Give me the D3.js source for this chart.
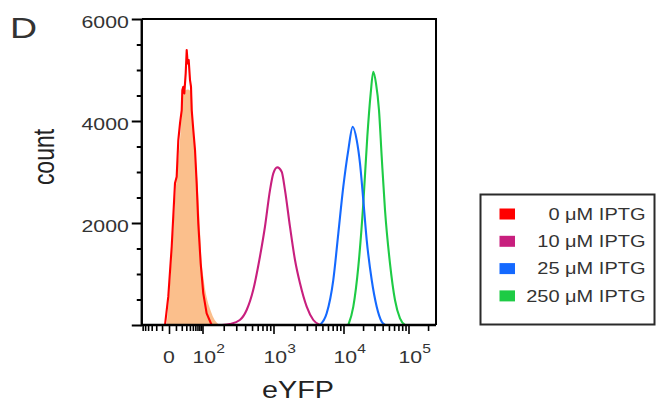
<!DOCTYPE html>
<html>
<head>
<meta charset="utf-8">
<script src="https://cdn.jsdelivr.net/npm/d3@7"></script>
<style>
  html, body { margin: 0; padding: 0; background: #fff; }
  svg { display: block; font-family: "Liberation Sans", Arial, sans-serif; }
</style>
</head>
<body>
<svg id="chart" width="663" height="412"></svg>
<script>
// ---- data: eYFP fluorescence (a.u.) vs. event count per histogram ----
const seriesNames = ["0 \u03bcM IPTG", "10 \u03bcM IPTG", "25 \u03bcM IPTG", "250 \u03bcM IPTG"];
const seriesColors = ["#ff0000", "#c81f7e", "#1469ff", "#1ecb45"];

// unstained / background control (filled)
const ctrlEyfp  = [-3.2, 1.4, 6.0, 11.1, 16.7, 19.9, 23.1, 26.9, 34.5, 45.9, 51.7, 58.6, 66.1, 74.2, 83.7, 92, 102.6, 134.8, 176.3];
const ctrlCount = [0, 823, 1862, 2907, 3626, 4155, 4541, 4600, 4620, 4540, 3822, 3430, 3038, 2515, 1862, 1300, 950, 230, 0];

// 0 uM IPTG
const redEyfp  = [-5.6, -1.0, 3.75, 8.5, 11.1, 13.75, 16.7, 19.9, 21.1, 23.1, 25.3, 28.5, 31.0, 33.6, 36.4, 40.3, 43.5, 45.9, 51.7, 58.6, 66.1, 74.2, 88.0, 102.6, 114.6, 134.8];
const redCount = [0, 555, 1535, 2778, 2907, 3626, 3953, 4214, 4606, 4671, 4541, 4933, 5390, 5129, 5194, 4802, 4671, 4214, 3822, 3430, 2777, 1993, 1209, 621, 229, 0];

// 10 uM IPTG
const magEyfp  = [188, 244, 337, 420, 519, 645, 759, 893, 994, 1133, 1309, 1459, 1720, 2028, 2391, 2980, 3705, 4613];
const magCount = [0, 20, 98, 294, 686, 1339, 1927, 2646, 2973, 3091, 3005, 2646, 1927, 1274, 817, 359, 98, 0];

// 25 uM IPTG
const blueEyfp  = [4613, 5754, 7145, 8433, 9934, 11860, 13860, 15970, 17940, 20170, 22760, 27170, 32420, 38700, 43500];
const blueCount = [0, 229, 882, 1797, 2711, 3430, 3887, 3626, 3169, 2450, 1666, 882, 359, 65, 0];

// 250 uM IPTG
const greenEyfp  = [11860, 14160, 16900, 20170, 23240, 26200, 28720, 31620, 35160, 38700, 43500, 51880, 61940, 73950, 88310];
const greenCount = [0, 359, 1143, 2385, 3691, 4541, 4965, 4737, 4214, 3299, 2254, 1209, 490, 131, 0];

// axis ticks
const xDomain = [-64, 265000];
const xMajorTicks = [0, 1e2, 1e3, 1e4, 1e5];
const xTickBase = ["0", "10", "10", "10", "10"];
const xTickExp  = ["", "2", "3", "4", "5"];
const xMinorTicks = [-60, -50, -40, -30, -20, -10, 10, 20, 30, 40, 50, 60, 70, 80, 90,
  200, 300, 400, 500, 600, 700, 800, 900,
  2000, 3000, 4000, 5000, 6000, 7000, 8000, 9000,
  20000, 30000, 40000, 50000, 60000, 70000, 80000, 90000, 200000];
const yDomain = [0, 6000];
const yMajorTicks = [0, 2000, 4000, 6000];
const yTickLabels = ["", "2000", "4000", "6000"];
const yMinorTicks = [500, 1000, 1500, 2500, 3000, 3500, 4500, 5000, 5500];

// ---- scales ----
const svg = d3.select("#chart");
const STRETCH = "scale(1.25,1)";

// biexponential (arcsinh-like) display transform: linear near zero, log10 above
const LIN_W = 10;
const bx = v => Math.log10(v / 2 + Math.sqrt(v * v / 4 + LIN_W * LIN_W));
const xLin = d3.scaleLinear()
  .domain([bx(0), bx(1e2), bx(1e3), bx(1e4), bx(1e5)])
  .range([169, 202.5, 273.5, 343.5, 408.5]);
function makeX() {
  const s = v => xLin(bx(v));
  s.domain = () => xDomain.slice();
  s.range = () => xDomain.map(s);
  s.copy = makeX;
  return s;
}
const x = makeX();
const y = d3.scaleLinear().domain(yDomain).range([325, 19]);

const [xL, xR] = x.range();
const [yB, yT] = y.range();

// ---- histograms ----
const plot = svg.append("g");

plot.append("path")
  .datum(d3.zip(ctrlEyfp, ctrlCount))
  .attr("fill", "#fbbf8c")
  .attr("d", d3.area().x(d => x(d[0])).y0(y(0)).y1(d => y(d[1])).curve(d3.curveMonotoneX));

const lineSmooth = d3.line().x(d => x(d[0])).y(d => y(d[1])).curve(d3.curveMonotoneX);
const lineRaw = d3.line().x(d => x(d[0])).y(d => y(d[1])).curve(d3.curveLinear);

const series = [
  { e: greenEyfp, c: greenCount, color: seriesColors[3], gen: lineSmooth },
  { e: blueEyfp, c: blueCount, color: seriesColors[2], gen: lineSmooth },
  { e: magEyfp, c: magCount, color: seriesColors[1], gen: lineSmooth },
  { e: redEyfp, c: redCount, color: seriesColors[0], gen: lineRaw }
];
plot.selectAll("path.hist")
  .data(series)
  .join("path")
  .attr("class", "hist")
  .attr("fill", "none")
  .attr("stroke", d => d.color)
  .attr("stroke-width", 2.1)
  .attr("stroke-linejoin", "round")
  .attr("d", d => d.gen(d3.zip(d.e, d.c)));

// ---- frame and axes ----
const frame = svg.append("g").attr("stroke", "#000").attr("fill", "none");
frame.append("path").attr("stroke-width", 2).attr("d", `M${xL},${yT}H${xR}V${yB}`);

const gx = svg.append("g").attr("transform", `translate(0,${yB})`);
gx.append("g").call(d3.axisBottom(x).tickValues(xMinorTicks).tickSize(6).tickSizeOuter(0).tickFormat(""));
gx.append("g").call(d3.axisBottom(x).tickValues(xMajorTicks).tickSize(9).tickSizeOuter(0).tickFormat(""));
gx.selectAll(".domain").remove();
gx.selectAll(".tick line").attr("stroke", "#000").attr("stroke-width", 1.6);

const gy = svg.append("g").attr("transform", `translate(${xL},0)`);
gy.append("g").call(d3.axisLeft(y).tickValues(yMinorTicks).tickSize(5).tickSizeOuter(0).tickFormat(""));
gy.append("g").call(d3.axisLeft(y).tickValues(yMajorTicks).tickSize(10).tickSizeOuter(0).tickFormat(""));
gy.selectAll(".domain").remove();
gy.selectAll(".tick line").attr("stroke", "#000").attr("stroke-width", 2);

// axis lines
svg.append("path").attr("stroke", "#000").attr("stroke-width", 2.4).attr("fill", "none")
  .attr("d", `M${xL},${yT}V${yB}H${xR}`);

// y tick labels
svg.append("g").selectAll("g")
  .data(yMajorTicks.map((v, i) => ({ v, t: yTickLabels[i] })).filter(d => d.t))
  .join("g")
  .attr("transform", d => `translate(${xL - 13},${y(d.v) + 8.5})`)
  .append("text")
  .attr("transform", STRETCH)
  .attr("text-anchor", "end")
  .attr("font-size", 17)
  .attr("fill", "#333")
  .text(d => d.t);

// x tick labels (powers of ten)
const xl = svg.append("g").selectAll("g")
  .data(xMajorTicks.map((v, i) => ({ v, b: xTickBase[i], e: xTickExp[i] })))
  .join("g")
  .attr("transform", d => `translate(${d.e ? x(d.v) - 10 : x(d.v)},363)`)
  .append("text")
  .attr("transform", STRETCH)
  .attr("text-anchor", d => d.e ? "start" : "middle")
  .attr("font-size", 17)
  .attr("fill", "#333");
xl.append("tspan").text(d => d.b);
xl.append("tspan").attr("font-size", 12.5).attr("dy", -10).text(d => d.e);

// axis titles and panel letter
svg.append("text")
  .attr("transform", `translate(53.5,157) ${STRETCH} rotate(-90)`)
  .attr("text-anchor", "middle").attr("font-size", 23).attr("fill", "#222")
  .text("count");
svg.append("text")
  .attr("transform", `translate(298,398) ${STRETCH}`)
  .attr("text-anchor", "middle").attr("font-size", 23).attr("fill", "#222")
  .text("eYFP");
svg.append("text")
  .attr("transform", `translate(10,38) ${STRETCH}`)
  .attr("font-size", 30).attr("fill", "#333")
  .text("D");

// ---- legend ----
const lg = svg.append("g").attr("transform", "translate(480.5,194.5)");
lg.append("rect").attr("width", 174).attr("height", 130)
  .attr("fill", "#fff").attr("stroke", "#2a2a2a").attr("stroke-width", 2);
const rows = lg.selectAll("g.row")
  .data(seriesNames.map((n, i) => ({ n, c: seriesColors[i], i })))
  .join("g")
  .attr("class", "row")
  .attr("transform", d => `translate(0,${14 + d.i * 27.3})`);
rows.append("rect").attr("x", 19).attr("width", 15.5).attr("height", 11).attr("fill", d => d.c);
rows.append("g").attr("transform", "translate(165,11.3)")
  .append("text")
  .attr("transform", STRETCH)
  .attr("text-anchor", "end")
  .attr("font-size", 16)
  .attr("fill", "#333")
  .text(d => d.n);
</script>
</body>
</html>
